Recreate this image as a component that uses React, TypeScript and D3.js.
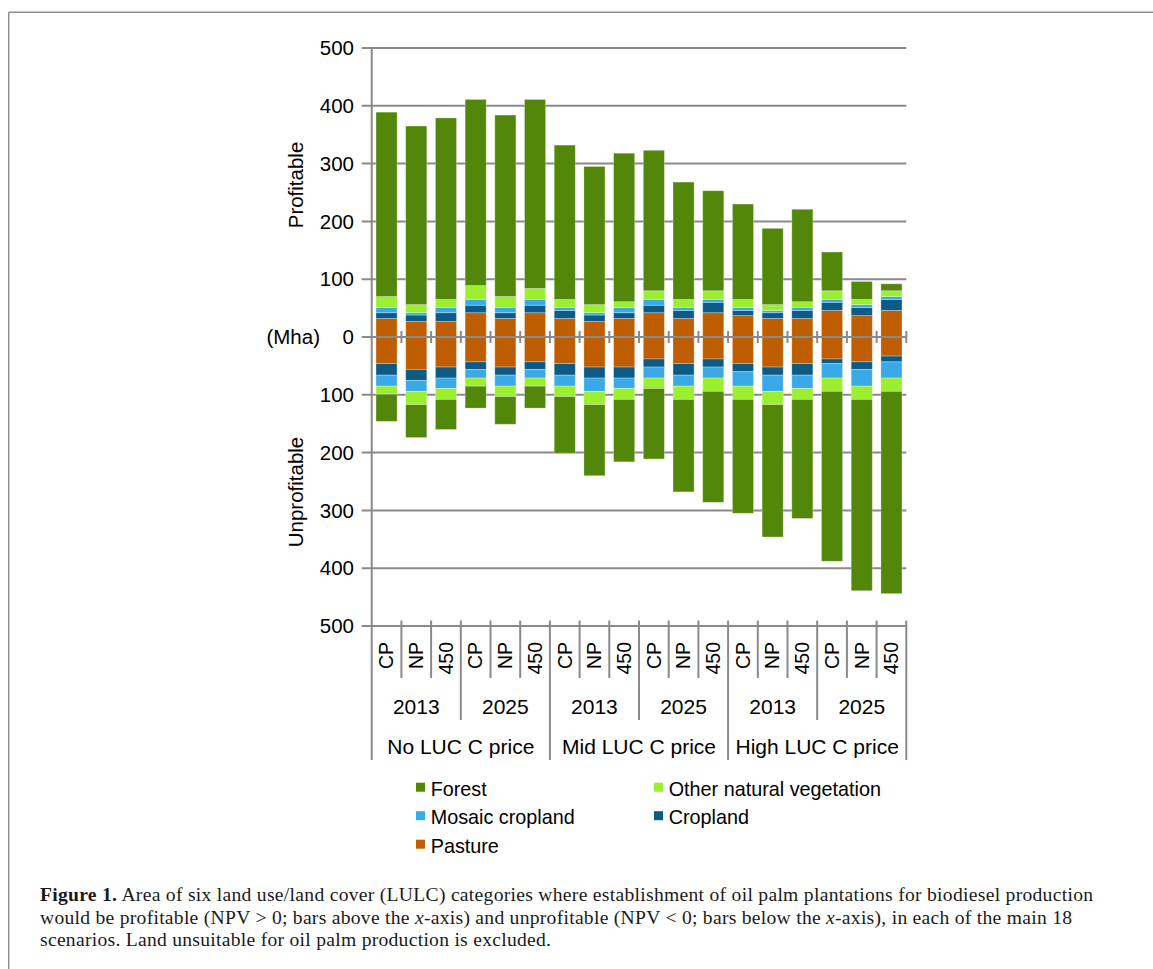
import * as d3 from 'd3';
import React, { useEffect, useRef } from 'react';

// category levels (innermost first)
const scenarioLabels = ['CP', 'NP', '450'];
const yearLabels = ['2013', '2025'];
const priceLabels = ['No LUC C price', 'Mid LUC C price', 'High LUC C price'];

const classKeys = ['pasture', 'cropland', 'mosaic', 'other', 'forest'];
const classColors: Record<string, string> = {
  forest: '#52870a',
  other: '#9cef30',
  mosaic: '#3aa9e8',
  cropland: '#0c5a86',
  pasture: '#bf5e00',
};
const legendItems = [
  { key: 'forest', label: 'Forest' },
  { key: 'other', label: 'Other natural vegetation' },
  { key: 'mosaic', label: 'Mosaic cropland' },
  { key: 'cropland', label: 'Cropland' },
  { key: 'pasture', label: 'Pasture' },
];

// profitable area (Mha), NPV > 0
const pastureUp = [32, 27, 27, 42, 32, 42, 32, 27, 32, 42, 32, 42, 37, 32, 32, 46, 37, 46];
const croplandUp = [10, 11, 15, 13, 10, 13, 14, 11, 10, 13, 14, 18, 9, 10, 14, 14, 14, 19];
const mosaicUp = [9, 4, 9, 10, 9, 10, 5, 4, 9, 10, 5, 5, 5, 4, 5, 5, 5, 5];
const otherUp = [19, 14, 14, 24, 19, 19, 14, 14, 10, 15, 14, 15, 14, 10, 10, 15, 9, 10];
const forestUp = [319, 309, 314, 322, 314, 327, 267, 239, 257, 243, 203, 173, 165, 132, 160, 67, 31, 12];

// unprofitable area (Mha), NPV < 0
const pastureDown = [46, 56, 52, 43, 52, 43, 46, 52, 52, 38, 46, 38, 46, 52, 46, 38, 43, 33];
const croplandDown = [20, 19, 19, 13, 14, 13, 20, 19, 19, 14, 20, 14, 14, 14, 20, 8, 13, 10];
const mosaicDown = [19, 19, 18, 15, 19, 15, 19, 23, 18, 19, 19, 19, 25, 28, 23, 25, 29, 28];
const otherDown = [14, 23, 19, 14, 18, 14, 18, 23, 19, 18, 23, 23, 23, 23, 19, 23, 23, 23];
const forestDown = [47, 57, 52, 38, 48, 38, 98, 123, 108, 122, 160, 192, 197, 229, 206, 294, 331, 350];

const yTicks = [-500, -400, -300, -200, -100, 0, 100, 200, 300, 400, 500];

const captionLines = [
  [
    { t: 'Figure 1.', w: 'bold' },
    { t: ' Area of six land use/land cover (LULC) categories where establishment of oil palm plantations for biodiesel production' },
  ],
  [
    { t: 'would be profitable (NPV > 0; bars above the ' },
    { t: 'x', s: 'italic' },
    { t: '-axis) and unprofitable (NPV < 0; bars below the ' },
    { t: 'x', s: 'italic' },
    { t: '-axis), in each of the main 18' },
  ],
  [{ t: 'scenarios. Land unsuitable for oil palm production is excluded.' }],
];

const sans = '"Liberation Sans", Arial, sans-serif';

export default function App() {
  const svgRef = useRef<SVGSVGElement>(null);

  useEffect(() => {
    if (!svgRef.current) return;
    const svg = d3.select(svgRef.current);
    svg.selectAll('*').remove();

    const left = 371.7;
    const right = 906.3;
    const grey = '#8a8a8a';

    const ids: string[] = [];
    priceLabels.forEach(p => yearLabels.forEach(yr => scenarioLabels.forEach(s => ids.push(`${p}|${yr}|${s}`))));

    const x = d3.scaleBand<string>().domain(ids).range([left, right]).paddingInner(0.29).paddingOuter(0.145);
    const step = x.step();
    const y = d3.scaleLinear().domain([-500, 500]).range([626, 48]);

    // frame
    svg.append('line').attr('x1', 8.7).attr('x2', 1153).attr('y1', 12.3).attr('y2', 12.3)
      .attr('stroke', '#8e8e8e').attr('stroke-width', 1.4);
    svg.append('line').attr('x1', 8.7).attr('x2', 8.7).attr('y1', 12.3).attr('y2', 969)
      .attr('stroke', '#8e8e8e').attr('stroke-width', 1.4);

    const g = svg.append('g');

    // gridlines
    g.selectAll('line.grid')
      .data(yTicks.filter(t => t !== 0))
      .join('line')
      .attr('class', 'grid')
      .attr('x1', left - 10).attr('x2', right)
      .attr('y1', d => y(d)).attr('y2', d => y(d))
      .attr('stroke', grey).attr('stroke-width', 2);

    g.selectAll('text.ytick')
      .data(yTicks)
      .join('text')
      .attr('class', 'ytick')
      .attr('x', 354).attr('y', d => y(d)).attr('dy', '0.35em')
      .attr('text-anchor', 'end')
      .attr('font-family', sans).attr('font-size', 20.5)
      .text(d => Math.abs(d));

    // stacked bars
    const rowsUp = ids.map((id, i) => ({
      id, pasture: pastureUp[i], cropland: croplandUp[i], mosaic: mosaicUp[i], other: otherUp[i], forest: forestUp[i],
    }));
    const rowsDown = ids.map((id, i) => ({
      id, pasture: pastureDown[i], cropland: croplandDown[i], mosaic: mosaicDown[i], other: otherDown[i], forest: forestDown[i],
    }));
    const stack = d3.stack<any>().keys(classKeys);

    const drawStack = (rows: any[], sign: number) => {
      stack(rows).forEach(series => {
        g.selectAll(null)
          .data(series)
          .join('rect')
          .attr('x', d => x(d.data.id) || 0)
          .attr('width', x.bandwidth())
          .attr('y', d => Math.min(y(sign * d[0]), y(sign * d[1])))
          .attr('height', d => Math.abs(y(sign * d[1]) - y(sign * d[0])))
          .attr('fill', classColors[series.key])
          .attr('stroke', 'rgba(255,255,255,0.35)')
          .attr('stroke-width', 0.8);
      });
    };
    drawStack(rowsUp, 1);
    drawStack(rowsDown, -1);

    // zero axis on top of the bars
    const y0 = y(0);
    g.append('line').attr('x1', left - 10).attr('x2', right).attr('y1', y0).attr('y2', y0)
      .attr('stroke', grey).attr('stroke-width', 2);
    g.selectAll('line.ztick')
      .data(d3.range(1, ids.length + 1))
      .join('line')
      .attr('class', 'ztick')
      .attr('x1', i => left + i * step).attr('x2', i => left + i * step)
      .attr('y1', y0 - 6).attr('y2', y0 + 6)
      .attr('stroke', grey).attr('stroke-width', 2);

    // y axis line, running through the category table
    g.append('line').attr('x1', left).attr('x2', left).attr('y1', 47).attr('y2', 760)
      .attr('stroke', grey).attr('stroke-width', 2);

    // multi-level category axis
    g.selectAll('line.cat')
      .data(d3.range(1, ids.length + 1))
      .join('line')
      .attr('class', 'cat')
      .attr('x1', i => left + i * step).attr('x2', i => left + i * step)
      .attr('y1', 620.5)
      .attr('y2', i => (i % 6 === 0 ? 760 : i % 3 === 0 ? 720 : 678))
      .attr('stroke', grey).attr('stroke-width', 2);

    g.selectAll('text.scen')
      .data(ids)
      .join('text')
      .attr('class', 'scen')
      .attr('transform', d => `translate(${(x(d) || 0) + x.bandwidth() / 2},642) rotate(-90)`)
      .attr('dy', '0.35em')
      .attr('text-anchor', 'end')
      .attr('font-family', sans).attr('font-size', 19.5)
      .text(d => d.split('|')[2]);

    const yearGroups = d3.range(priceLabels.length * yearLabels.length);
    g.selectAll('text.year')
      .data(yearGroups)
      .join('text')
      .attr('class', 'year')
      .attr('x', k => left + (k * 3 + 1.5) * step).attr('y', 714)
      .attr('text-anchor', 'middle')
      .attr('font-family', sans).attr('font-size', 21)
      .text(k => yearLabels[k % yearLabels.length]);

    g.selectAll('text.price')
      .data(priceLabels)
      .join('text')
      .attr('class', 'price')
      .attr('x', (d, k) => left + (k * 6 + 3) * step).attr('y', 754)
      .attr('text-anchor', 'middle')
      .attr('font-family', sans).attr('font-size', 21)
      .text(d => d);

    // axis titles
    g.append('text').attr('transform', 'translate(303,185) rotate(-90)')
      .attr('text-anchor', 'middle').attr('font-family', sans).attr('font-size', 20.5)
      .text('Profitable');
    g.append('text').attr('transform', 'translate(303,492) rotate(-90)')
      .attr('text-anchor', 'middle').attr('font-family', sans).attr('font-size', 20.5)
      .text('Unprofitable');
    g.append('text').attr('x', 320).attr('y', y0).attr('dy', '0.35em')
      .attr('text-anchor', 'end').attr('font-family', sans).attr('font-size', 20.5)
      .text('(Mha)');

    // legend
    const legend = g.selectAll('g.leg')
      .data(legendItems)
      .join('g')
      .attr('class', 'leg')
      .attr('transform', (d, i) => `translate(${i % 2 === 0 ? 416 : 654},${782.7 + Math.floor(i / 2) * 28.5})`);
    legend.append('rect').attr('width', 9).attr('height', 9).attr('fill', d => classColors[d.key]);
    legend.append('text').attr('x', 14.7).attr('y', 13)
      .attr('font-family', sans).attr('font-size', 19.8)
      .text(d => d.label);

    // caption
    const capWidths = [1053, 1032, 511];
    captionLines.forEach((line, li) => {
      const t = svg.append('text')
        .attr('x', 40).attr('y', 901 + li * 22.7)
        .attr('font-family', '"Liberation Serif", "Times New Roman", serif')
        .attr('font-size', 19.6)
        .attr('fill', '#1a1a1a')
        .attr('textLength', capWidths[li])
        .attr('lengthAdjust', 'spacing');
      line.forEach((part: any) => {
        t.append('tspan')
          .attr('font-weight', part.w || 'normal')
          .attr('font-style', part.s || 'normal')
          .text(part.t);
      });
    });
  }, []);

  return (
    <svg
      ref={svgRef}
      width={1153}
      height={969}
      style={{ position: 'absolute', left: 0, top: 0, background: '#fff' }}
    />
  );
}
